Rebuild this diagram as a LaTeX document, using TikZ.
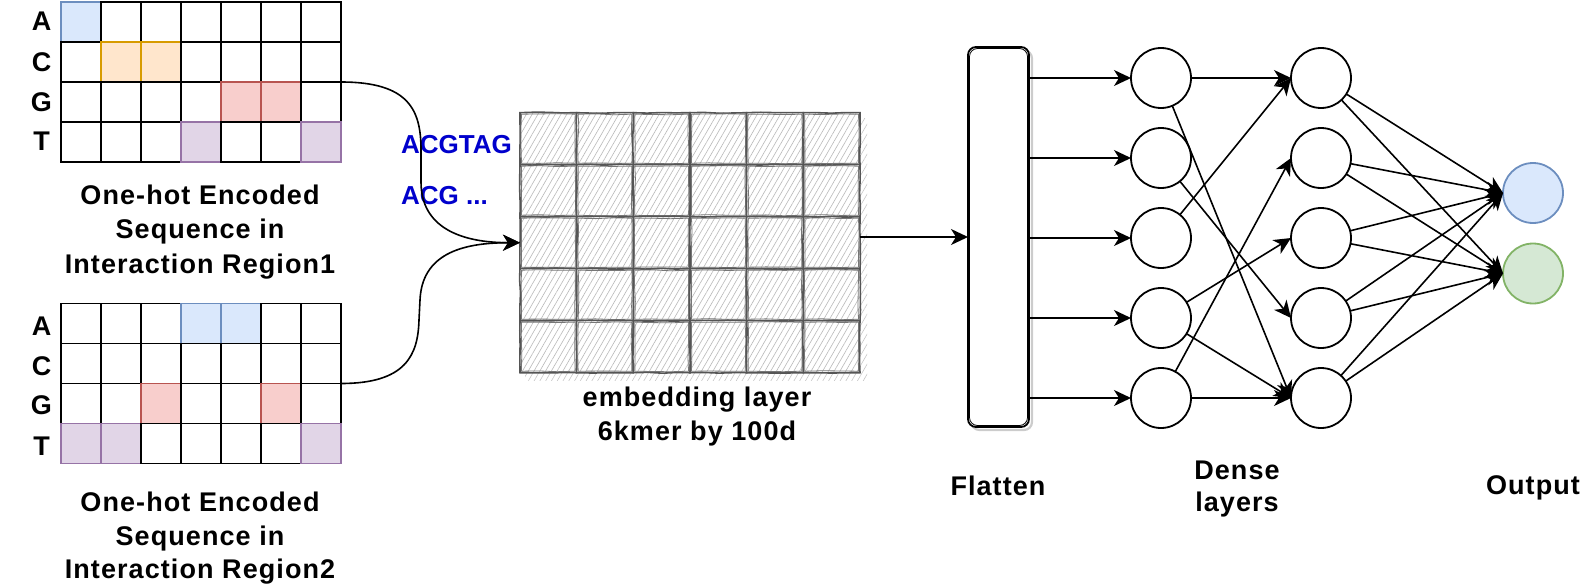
\documentclass[tikz,border=0pt]{standalone}
\usepackage{fontspec}
\setmainfont{Liberation Sans}
\newfontfamily\labfont[LetterSpace=4]{Liberation Sans}
\usetikzlibrary{arrows.meta,patterns.meta,decorations.pathmorphing,calc}
\definecolor{bF}{HTML}{DAE8FC}\definecolor{bS}{HTML}{6C8EBF}
\definecolor{oF}{HTML}{FFE6CC}\definecolor{oS}{HTML}{D79B00}
\definecolor{rF}{HTML}{F8CECC}\definecolor{rS}{HTML}{B85450}
\definecolor{pF}{HTML}{E1D5E7}\definecolor{pS}{HTML}{9673A6}
\definecolor{gF}{HTML}{D5E8D4}\definecolor{gS}{HTML}{82B366}
\definecolor{seqblue}{HTML}{0000CC}
\definecolor{sk}{HTML}{555555}
\begin{document}
\begin{tikzpicture}[x=1pt,y=-1pt,
  cell/.style={rectangle, draw, line width=1.8pt, minimum width=40pt, minimum height=40pt, inner sep=0pt, outer sep=0pt},
  cellw/.style={fill=white, draw=black},
  cellb/.style={fill=bF, draw=bS},
  cello/.style={fill=oF, draw=oS},
  cellr/.style={fill=rF, draw=rS},
  cellp/.style={fill=pF, draw=pS},
  lab/.style={font=\labfont\bfseries\fontsize{27}{32}\selectfont, inner sep=0pt, anchor=base},
  seqtxt/.style={font=\bfseries\fontsize{26}{30}\selectfont, text=seqblue, inner sep=0pt, anchor=base west},
  arr/.style={line width=1.6pt, -{Stealth[length=17pt,width=16pt,inset=5pt]}},
  neuron/.style={circle, draw, line width=1.8pt, minimum size=60pt, inner sep=0pt, outer sep=0pt, fill=white},
  embcell/.style={rectangle, minimum width=56.667pt, minimum height=52pt, inner sep=0pt, outer sep=0pt,
     preaction={fill=white}, pattern={Lines[angle=60,distance=5pt,line width=0.6pt]}, pattern color=gray!55},
  sketcha/.style={draw=sk, line width=1.6pt, decorate, decoration={random steps, segment length=14pt, amplitude=0.5pt}},
  sketchb/.style={draw=sk!80, line width=0.8pt, decorate, decoration={random steps, segment length=18pt, amplitude=0.6pt}},
  flatbox/.style={rectangle, rounded corners=8pt, minimum width=61pt, minimum height=380pt, draw=black, line width=1.8pt, inner sep=0pt, outer sep=0pt, fill=white}
]
\useasboundingbox (0,0) rectangle (1582,586);
\pgfmathsetseed{7}

% ---------- top one-hot grid ----------
\foreach \r/\cols in {1/{b,w,w,w,w,w,w},2/{w,o,o,w,w,w,w},3/{w,w,w,w,r,r,w},4/{w,w,w,p,w,w,p}}{
  \foreach \s [count=\c] in \cols {
    \node[cell, cell\s] (t\r\c) at ({41+40*\c},{-18+40*\r}) {};
  }
}
% ---------- bottom one-hot grid ----------
\foreach \r/\cols in {1/{w,w,w,b,b,w,w},2/{w,w,w,w,w,w,w},3/{w,w,r,w,w,r,w},4/{p,p,w,w,w,w,p}}{
  \foreach \s [count=\c] in \cols {
    \node[cell, cell\s] (u\r\c) at ({41+40*\c},{283.5+40*\r}) {};
  }
}
% row labels
\node[lab] (ta) at (41.5,31) {A};
\node[lab] (tc) at (41.5,71) {C};
\node[lab] (tg) at (41.5,111) {G};
\node[lab] (tt) at (41.5,150) {T};
\node[lab] (ua) at (41.5,335) {A};
\node[lab] (uc) at (41.5,375) {C};
\node[lab] (ug) at (41.5,414) {G};
\node[lab] (ut) at (41.5,455) {T};
% grid captions
\node[lab] (c1a) at (200,204) {One-hot Encoded};
\node[lab] (c1b) at (200,238) {Sequence in};
\node[lab] (c1c) at (200,273) {Interaction Region1};
\node[lab] (c2a) at (200,511) {One-hot Encoded};
\node[lab] (c2b) at (200,545) {Sequence in};
\node[lab] (c2c) at (200,578) {Interaction Region2};

% sequence text
\node[seqtxt] (s1) at (401,153) {ACGTAG};
\node[seqtxt] (s2) at (401,204) {ACG ...};

% ---------- embedding layer ----------
\fill[pattern={Lines[angle=60,distance=5pt,line width=0.6pt]}, pattern color=gray!45] (525,118) rectangle (867,380);
\foreach \r in {1,...,5}{
  \foreach \c in {1,...,6}{
    \node[embcell] (e\r\c) at ({520+56.667*(\c-0.5)},{112.7+52*(\r-0.5)}) {};
    \draw[sketcha] (e\r\c.south west) rectangle (e\r\c.north east);
    \draw[sketchb] ([shift={(1.5pt,1.5pt)}]e\r\c.south west) rectangle ([shift={(-1.5pt,-1.5pt)}]e\r\c.north east);
  }
}
\node[lab] (el1) at (697,406.5) {embedding layer};
\node[lab] (el2) at (697,440.5) {6kmer by 100d};

% connectors grid -> embedding
\draw[arr] (t37.north east) .. controls +(68,0) and +(0,-40) .. (421,150) -- (421,182) .. controls +(0,45) and +(-60,0) .. (e31.west);
\draw[arr] (u37.north east) .. controls +(65,0) and +(-1,35) .. (419,320) -- (420,300) .. controls +(2,-45) and +(-60,0) .. (e31.west);

% ---------- flatten ----------
\draw[gray!40, line width=2.2pt, rounded corners=8pt] (971.5,50.5) rectangle (1032,430);
\node[flatbox] (flat) at (998.5,237) {};
\draw[black, line width=0.8pt, rounded corners=8pt] (969.5,48.5) rectangle (1027.5,425.5);
\node[lab] (fl) at (998,495) {Flatten};

\draw[arr] (e36.east |- flat.west) -- (flat.west);

% ---------- dense layers ----------
\foreach \i in {1,...,5}{
  \node[neuron] (d1\i) at (1161,{-2+80*\i}) {};
  \node[neuron] (d2\i) at (1321,{-2+80*\i}) {};
}
\node[neuron, fill=bF, draw=bS] (o1) at (1533,193) {};
\node[neuron, fill=gF, draw=gS] (o2) at (1533,273.5) {};

\foreach \i in {1,...,5}{
  \draw[arr] (flat.east |- d1\i.west) -- (d1\i.west);
}
\foreach \a/\b in {1/1,1/5,2/4,3/1,4/3,4/5,5/2,5/5}{
  \draw[arr] (d1\a) -- (d2\b.west);
}
\foreach \a in {1,...,5}{
  \draw[arr] (d2\a) -- (o1.west);
  \draw[arr] (d2\a) -- (o2.west);
}

\node[lab] (dl1) at (1237,479) {Dense};
\node[lab] (dl2) at (1237,511) {layers};
\node[lab] (ol) at (1533,494) {Output};
\end{tikzpicture}
\end{document}
